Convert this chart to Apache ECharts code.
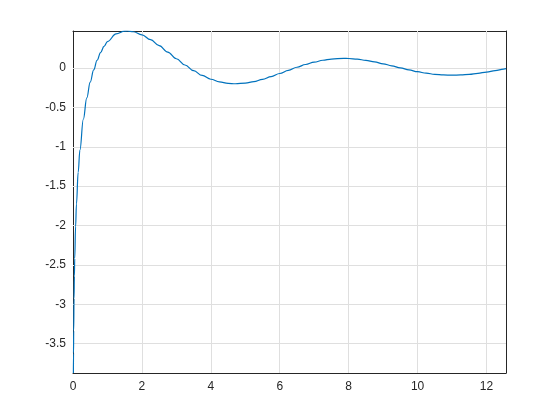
<!DOCTYPE html>
<html>
<head>
<meta charset="utf-8">
<script src="https://cdn.jsdelivr.net/npm/echarts@6/dist/echarts.min.js"></script>
<style>html,body{margin:0;padding:0;background:#fff}#c{width:560px;height:420px}</style>
</head>
<body>
<div id="c"></div>
<script>
const xValues = [0.0117,0.015,0.02,0.03,0.04,0.05,0.075,0.1,0.15,0.2,0.3,0.4,0.5,0.6,0.7,0.8,0.9,1.0,1.25,1.5,1.5708,1.75,2,2.25,2.5,2.75,3,3.25,3.5,3.75,4,4.25,4.5,4.7124,5,5.25,5.5,5.75,6,6.25,6.5,6.75,7,7.25,7.5,7.854,8,8.25,8.5,8.75,9,9.25,9.5,9.75,10,10.25,10.5,10.75,11,11.25,11.5,11.75,12,12.25,12.5,12.566];
const yValues = [-3.874,-3.6225,-3.3352,-2.9294,-2.6417,-2.4191,-2.0145,-1.7279,-1.3255,-1.0422,-0.6492,-0.3788,-0.1778,-0.0223,0.1005,0.1983,0.2761,0.3374,0.4343,0.4704,0.4720,0.4626,0.4230,0.3614,0.2859,0.2033,0.1196,0.0398,-0.0321,-0.0931,-0.1410,-0.1746,-0.1935,-0.1984,-0.1900,-0.1706,-0.1421,-0.1070,-0.0681,-0.0279,0.0111,0.0466,0.0767,0.1000,0.1157,0.1238,0.1225,0.1144,0.0996,0.0794,0.0555,0.0293,0.0027,-0.0227,-0.0455,-0.0643,-0.0783,-0.0868,-0.0896,-0.0867,-0.0786,-0.0660,-0.0498,-0.0312,-0.0114,-0.0061];
const xTicks = [0,2,4,6,8,10,12];
const yTicks = [0,-0.5,-1,-1.5,-2,-2.5,-3,-3.5];

const xMin = 0, xMax = xValues[xValues.length-1];
const yMin = yValues[0], yMax = 0.472;

const axisColor = '#262626';
const gridColor = '#dfdfdf';
const font = 'Liberation Sans, Arial, Helvetica, sans-serif';

const chart = echarts.init(document.getElementById('c'), null, {renderer:'canvas'});
const commonX = {
  type:'value', min:xMin, max:xMax,
  axisLine:{show:true, onZero:false, lineStyle:{color:axisColor, width:1}},
  axisTick:{show:true, inside:true, length:5, customValues:xTicks, lineStyle:{color:axisColor}},
  splitLine:{show:false}
};
const commonY = {
  type:'value', min:yMin, max:yMax,
  axisLine:{show:true, onZero:false, lineStyle:{color:axisColor, width:1}},
  axisTick:{show:true, inside:true, length:5, customValues:yTicks, lineStyle:{color:axisColor}},
  splitLine:{show:false}
};
const gridLines = [];
xTicks.forEach(v => { if (v > xMin) gridLines.push({xAxis:v}); });
yTicks.forEach(v => gridLines.push({yAxis:v}));

chart.setOption({
  animation:false,
  backgroundColor:'#ffffff',
  grid:{left:73, right:54, top:31, bottom:47, containLabel:false},
  xAxis:[
    Object.assign({}, commonX, {position:'bottom',
      axisLabel:{show:true, customValues:xTicks, color:axisColor, fontFamily:font, fontSize:12, margin:8, formatter:v=>String(v)}}),
    Object.assign({}, commonX, {position:'top', axisLabel:{show:false}})
  ],
  yAxis:[
    Object.assign({}, commonY, {position:'left',
      axisLabel:{show:true, customValues:yTicks, color:axisColor, fontFamily:font, fontSize:12, margin:7, formatter:v=>String(v)}}),
    Object.assign({}, commonY, {position:'right', axisLabel:{show:false}})
  ],
  series:[{
    type:'line',
    xAxisIndex:0, yAxisIndex:0,
    data:xValues.map((x,i)=>[x,yValues[i]]),
    showSymbol:false,
    smooth:0.4,
    smoothMonotone:'x',
    clip:true,
    lineStyle:{color:'#0072BD', width:1.2},
    z:3,
    markLine:{
      silent:true, symbol:'none', animation:false,
      label:{show:false},
      lineStyle:{color:gridColor, width:1, type:'solid'},
      data:gridLines,
      z:1
    }
  }]
});
</script>
</body>
</html>
